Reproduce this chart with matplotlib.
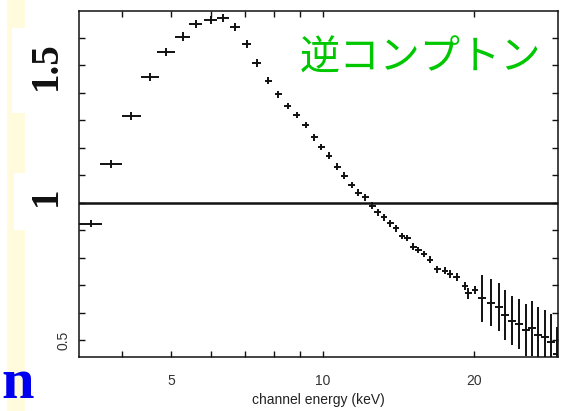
import matplotlib.pyplot as plt
from matplotlib.patches import Rectangle
from matplotlib.ticker import FixedLocator, NullFormatter, MultipleLocator

# channel energy (keV) of each bin, data/model ratio and errors
energy = [3.46, 3.80, 4.17, 4.54, 4.89, 5.27, 5.60, 5.99, 6.34, 6.69, 7.06, 7.39,
          7.80, 8.17, 8.53, 8.88, 9.26, 9.62, 9.93,
          10.30, 10.70, 11.05, 11.43, 11.78, 12.15, 12.56, 12.87, 13.25,
          13.62, 14.00, 14.37, 14.74, 15.15, 15.50, 15.91, 16.35, 16.90, 17.51,
          17.91, 18.47, 19.19, 19.48, 20.09,
          20.77, 21.59, 22.43, 23.05, 23.82, 24.59, 25.37, 26.04, 26.84, 27.67, 28.40, 29.20]
energy_err = [0.18, 0.19, 0.18, 0.19, 0.20, 0.18, 0.17, 0.19, 0.17, 0.15, 0.15, 0.15,
              0.13, 0.13, 0.14, 0.14, 0.15, 0.15, 0.16,
              0.16, 0.17, 0.17, 0.18, 0.18, 0.19, 0.19, 0.20, 0.20,
              0.21, 0.21, 0.22, 0.22, 0.23, 0.23, 0.24, 0.25, 0.25, 0.26,
              0.27, 0.28, 0.29, 0.29, 0.30,
              0.38, 0.40, 0.41, 0.42, 0.44, 0.45, 0.47, 0.48, 0.50, 0.51, 0.52, 0.54]
ratio = [0.924, 1.141, 1.316, 1.459, 1.549, 1.605, 1.650, 1.665, 1.672, 1.639, 1.578, 1.510,
         1.445, 1.395, 1.353, 1.320, 1.284, 1.239, 1.203,
         1.172, 1.132, 1.099, 1.065, 1.038, 1.021, 0.990, 0.966, 0.948,
         0.926, 0.908, 0.880, 0.872, 0.841, 0.829, 0.815, 0.793, 0.759, 0.754,
         0.742, 0.732, 0.698, 0.672, 0.684,
         0.654, 0.637, 0.623, 0.593, 0.572, 0.560, 0.538, 0.544, 0.520, 0.512, 0.496, 0.450]
ratio_err = [0.013, 0.014, 0.015, 0.015, 0.015, 0.015, 0.015, 0.015, 0.015, 0.014, 0.014, 0.014,
             0.012, 0.012, 0.012, 0.012, 0.012, 0.012, 0.012,
             0.012, 0.012, 0.012, 0.012, 0.012, 0.012, 0.012, 0.012, 0.012,
             0.012, 0.012, 0.012, 0.012, 0.012, 0.012, 0.012, 0.013, 0.013, 0.013,
             0.014, 0.015, 0.016, 0.020, 0.015,
             0.085, 0.086, 0.087, 0.090, 0.088, 0.091, 0.093, 0.100, 0.100, 0.100, 0.100, 0.100]

x_major = [5, 10, 20]
x_minor = [4, 6, 7, 8, 9]

W, H = 570, 411
fig = plt.figure(figsize=(W / 100, H / 100), dpi=100)
ax = fig.add_axes([79 / W, 1 - 357 / H, 479 / W, 346 / H])


def box(x0, y0, x1, y1, color):
    fig.add_artist(Rectangle((x0 / W, 1 - y1 / H), (x1 - x0) / W, (y1 - y0) / H,
                             transform=fig.transFigure, facecolor=color,
                             edgecolor='none', zorder=-1))


# slide background strip and label patches
box(7, 0, 25, H, '#fffbdc')
box(12, 28, 79, 113, 'white')
box(14, 173, 79, 230, 'white')

ax.errorbar(energy, ratio, xerr=energy_err, yerr=ratio_err, fmt='none',
            ecolor='#111111', elinewidth=1.4, capsize=0)
ax.axhline(1, color='#111111', lw=1.8)

ax.set_xscale('log')
ax.set_xlim(3.28, 29.35)
ax.set_ylim(0.44, 1.698)

ax.xaxis.set_major_locator(FixedLocator(x_major))
ax.xaxis.set_minor_locator(FixedLocator(x_minor))
ax.xaxis.set_minor_formatter(NullFormatter())
ax.set_xticklabels([str(v) for v in x_major])
ax.yaxis.set_major_locator(MultipleLocator(0.5))
ax.yaxis.set_minor_locator(MultipleLocator(0.1))
ax.set_yticklabels([])

for which in ('major', 'minor'):
    ax.tick_params(which=which, direction='in', top=True, right=True,
                   length=4.5, width=1.0, color='#111111')
ax.tick_params(axis='x', which='major', pad=12, labelsize=10, labelcolor='#333333')
for lbl in ax.get_xticklabels():
    lbl.set_family('Liberation Sans')
for sp in ax.spines.values():
    sp.set_linewidth(1.1)
    sp.set_color('#111111')

ax.set_xlabel('channel energy (keV)', fontsize=10, color='#222222',
              family='Liberation Sans', labelpad=4)

ytr = ax.get_yaxis_transform()
ax.text(-0.032, 0.5, '0.5', transform=ytr, rotation=90, ha='center', va='center',
        fontsize=10, color='#333333', family='Liberation Sans')
ax.text(-0.069, 1.5, '1.5', transform=ytr, rotation=90, ha='center', va='center',
        fontsize=28, weight='bold', color='#111111', family='Liberation Serif',
        clip_on=False)
ax.text(-0.068, 1.025, '1', transform=ytr, rotation=90, ha='center', va='center',
        fontsize=28, weight='bold', color='#111111', family='Liberation Serif',
        clip_on=False)

fig.text(420 / W, 1 - 58.5 / H, '逆コンプトン', ha='center', va='center',
         fontsize=29, color='#00c800', family=['Noto Sans CJK JP', 'DejaVu Sans'])
fig.text(1 / W, 1 / H, 'n', ha='left', va='bottom', fontsize=42,
         weight='bold', color='#0000f0', family='Liberation Serif')

fig.savefig('out.png', dpi=100)
